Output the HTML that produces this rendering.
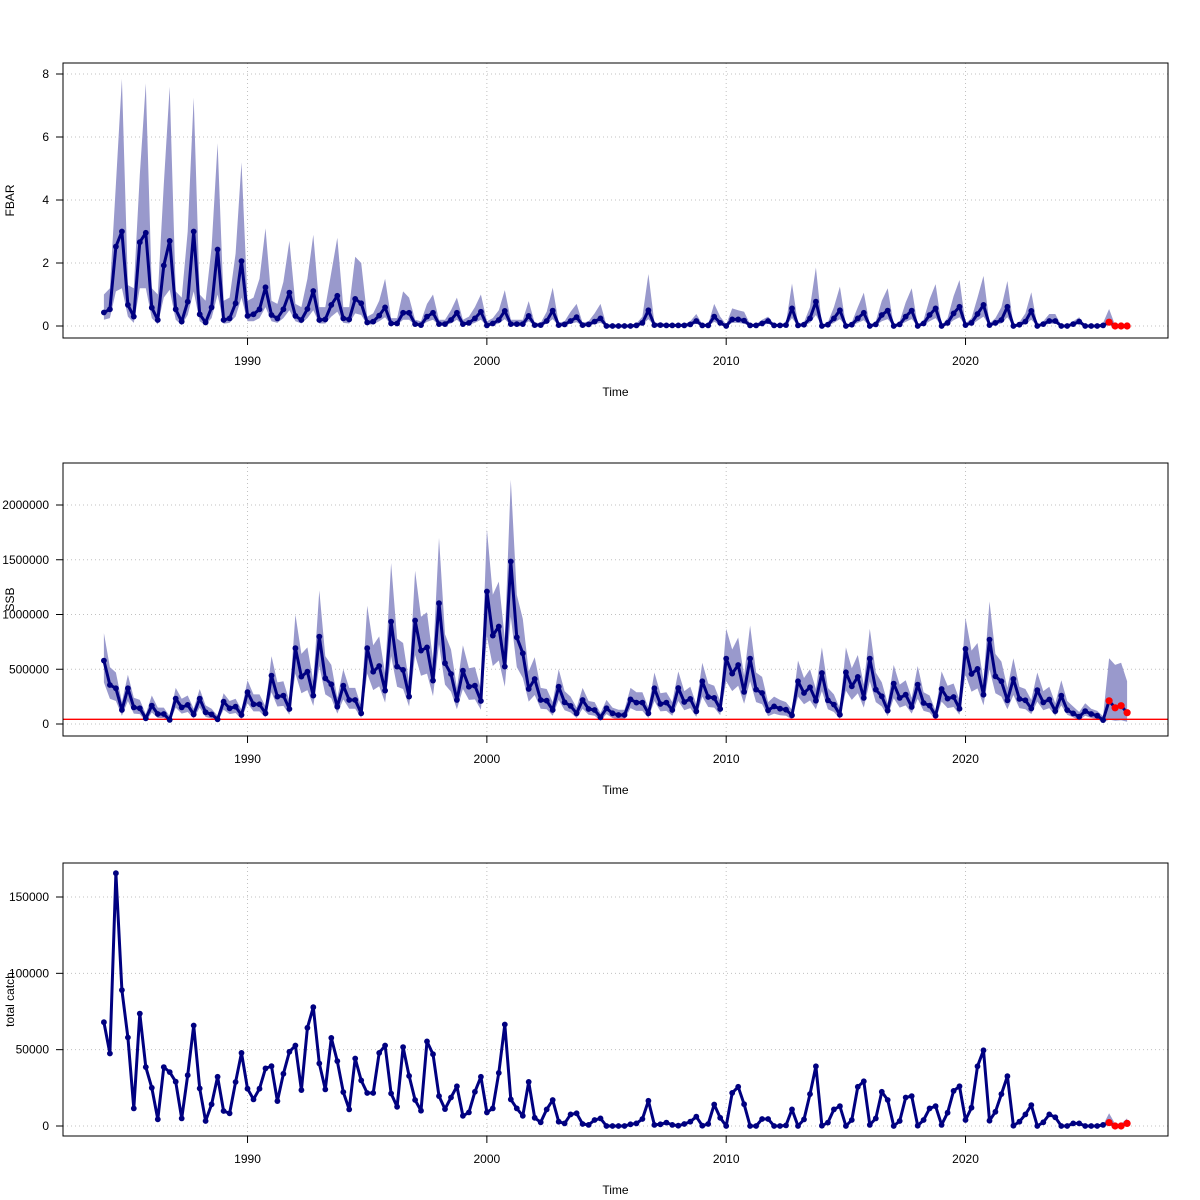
<!DOCTYPE html>
<html><head><meta charset="utf-8"><title>FBAR / SSB / total catch</title>
<style>
html,body{margin:0;padding:0;background:#fff;}
svg{display:block;font-family:"Liberation Sans",Arial,sans-serif;}
</style></head>
<body>
<svg id="chart" width="1200" height="1200" viewBox="0 0 1200 1200" xmlns="http://www.w3.org/2000/svg"></svg>
<script>
// ---- data (quarterly, 1984.0 .. 2026.75) ----
const startYear = 1984;
const quarterStep = 0.25;
const projectedCount = 4;
const xTickYears = [1990, 2000, 2010, 2020];

const fbarMean = [
.43,.53,2.52,3.0, .67,.30,2.66,2.96, .58,.19,1.92,2.70, .53,.14,.77,3.0,
.37,.11,.59,2.43, .19,.24,.72,2.06, .32,.37,.53,1.23, .35,.24,.53,1.06,
.32,.19,.54,1.11, .19,.21,.67,.96, .24,.21,.86,.72, .11,.14,.33,.59,
.08,.08,.42,.42, .06,.03,.30,.42, .06,.06,.19,.42, .06,.10,.24,.45,
.02,.08,.19,.48, .06,.06,.06,.32, .03,.03,.16,.49, .03,.05,.16,.28,
.03,.05,.14,.24, 0,0,0,0, 0,.02,.10,.50, .03,.03,.02,.02,
.02,.02,.05,.16, .02,.02,.30,.10, 0,.21,.21,.17, .02,.02,.08,.16,
.02,.02,.03,.56, .02,.04,.24,.77, 0,.04,.24,.50, 0,.04,.24,.42,
0,.05,.35,.49, 0,.05,.30,.49, 0,.08,.35,.56, 0,.10,.40,.61,
.03,.10,.38,.67, .03,.10,.19,.61, 0,.04,.14,.48, 0,.06,.16,.16,
0,0,.06,.14, 0,0,0,0.02, .12,0,0,0];
const fbarUpper = [
1.0,1.2,4.5,7.85, 1.3,1.2,4.8,7.7, 1.2,1.0,4.5,7.6, 1.1,0.9,3.0,7.25,
1.0,0.8,2.5,5.8, 0.8,0.9,2.3,5.2, 0.8,0.9,1.5,3.1, 0.8,0.7,1.4,2.7,
0.7,0.6,1.5,2.9, 0.6,0.6,1.7,2.8, 0.6,0.6,2.2,2.0, 0.3,0.4,0.8,1.5,
0.25,0.25,1.1,0.9, 0.2,0.15,0.7,1.0, 0.2,0.2,0.5,0.9, 0.2,0.3,0.6,1.0,
0.15,0.25,0.5,1.14, 0.2,0.2,0.2,0.79, 0.1,0.1,0.45,1.22, 0.1,0.15,0.45,0.7,
0.1,0.15,0.4,0.7, 0.02,0.02,0.02,0.02, 0.03,0.08,0.3,1.65, 0.1,0.1,0.06,0.06,
0.06,0.06,0.15,0.38, 0.06,0.06,0.7,0.3, 0.05,0.56,0.5,0.45, 0.06,0.06,0.2,0.3,
0.06,0.06,0.1,1.35, 0.06,0.12,0.6,1.86, 0.03,0.12,0.6,1.25, 0.03,0.12,0.6,1.06,
0.03,0.15,0.8,1.2, 0.03,0.15,0.75,1.2, 0.03,0.2,0.85,1.33, 0.03,0.25,0.95,1.46,
0.08,0.25,0.9,1.59, 0.08,0.25,0.6,1.43, 0.03,0.12,0.4,1.07, 0.03,0.15,0.38,0.38,
0.02,0.02,0.15,0.28, 0.02,0.02,0.02,0.1, 0.54,0.03,0.02,0.02];
const fbarLower = [
.2,.25,1.1,1.2, .3,.1,1.2,1.2, .25,.05,.9,1.15, .2,.03,.35,1.1,
.15,.03,.25,1.0, .07,.1,.3,.9, .15,.15,.25,.6, .15,.1,.25,.5,
.15,.08,.25,.5, .08,.08,.3,.45, .1,.08,.4,.35, .04,.05,.15,.28,
.03,.03,.2,.2, .02,.01,.13,.2, .02,.02,.08,.2, .02,.04,.1,.2,
0,.03,.08,.22, .02,.02,.02,.15, .01,.01,.07,.22, .01,.02,.07,.12,
.01,.02,.06,.1, 0,0,0,0, 0,0,.04,.22, .01,.01,0,0,
0,0,.02,.07, 0,0,.13,.04, 0,.1,.1,.07, 0,0,.03,.07,
0,0,.01,.25, 0,.01,.1,.35, 0,.01,.1,.22, 0,.01,.1,.18,
0,.02,.15,.22, 0,.02,.13,.22, 0,.03,.15,.25, 0,.04,.18,.28,
.01,.04,.17,.3, .01,.04,.08,.28, 0,.01,.06,.2, 0,.02,.07,.07,
0,0,.02,.06, 0,0,0,0, .03,0,0,0];

// SSB in thousands of tonnes
const ssbUnit = 1000;
const ssbMean = [
579,356,326,128, 326,152,143,52, 168,91,91,37, 232,152,174,88,
232,107,88,43, 204,143,158,82, 290,180,180,98, 442,250,259,137,
692,433,478,259, 798,417,363,158, 350,219,219,98, 692,478,530,305,
935,524,494,250, 945,670,700,396, 1103,555,457,219, 487,341,350,210,
1210,807,890,524, 1484,792,646,320, 411,219,213,128, 341,198,165,98,
219,137,128,61, 143,98,82,82, 225,195,195,98, 326,183,195,128,
329,201,229,116, 390,247,238,137, 597,460,539,293, 597,314,283,125,
161,140,131,79, 390,283,335,213, 466,216,177,85, 472,344,430,238,
597,314,253,122, 369,238,268,155, 360,192,168,76, 320,232,247,140,
686,457,503,268, 771,436,390,216, 411,229,216,142, 309,197,224,118,
258,127,97,67, 118,91,76,36, 212,148,167,103];
const ssbUpper = [
830,520,470,200, 450,240,220,90, 260,150,150,70, 330,230,260,140,
320,170,140,75, 280,210,230,130, 400,270,270,160, 620,380,390,210,
1000,640,700,390, 1220,620,540,240, 500,330,330,160, 1080,720,800,460,
1470,780,740,380, 1400,980,1020,590, 1700,820,680,330, 720,510,520,320,
1780,1180,1300,780, 2230,1180,960,480, 610,330,320,200, 500,300,250,150,
330,210,200,100, 220,150,130,130, 330,290,290,150, 470,280,290,200,
480,300,340,180, 560,370,350,210, 870,680,790,440, 900,470,430,200,
250,220,200,130, 580,420,500,320, 700,330,270,140, 700,510,630,360,
870,470,380,190, 540,360,400,240, 530,290,260,120, 480,350,370,220,
970,670,740,400, 1120,640,570,330, 600,340,320,220, 470,300,340,190,
400,210,160,110, 190,140,120,70, 600,540,560,390];
const ssbLower = [
380,230,210,75, 210,95,90,25, 105,55,55,15, 150,95,110,50,
150,65,50,20, 130,90,100,45, 190,115,115,60, 290,160,165,85,
460,280,310,165, 530,270,235,95, 225,140,140,55, 460,310,345,195,
620,340,320,160, 630,440,460,255, 730,360,295,135, 320,220,225,130,
800,530,580,340, 980,520,420,205, 265,140,135,75, 220,125,105,55,
140,85,75,30, 90,55,40,40, 145,120,120,55, 210,115,120,75,
210,125,145,65, 250,155,150,80, 390,300,350,185, 390,200,180,70,
95,80,75,40, 250,180,215,135, 300,135,110,45, 305,220,280,150,
390,200,160,70, 235,150,170,95, 230,120,105,40, 205,145,155,85,
450,295,325,170, 500,280,250,135, 265,145,135,90, 205,125,145,75,
170,85,60,35, 75,55,45,15, 40,30,35,20];
const ssbRefLine = 43; // thousands

// total catch in thousands of tonnes
const catchUnit = 1000;
const catchMean = [
68,47.5,165.6,89, 58,11.5,73.6,38.6, 25,4.4,38.6,35.3, 29,5,33.3,65.8,
24.6,3.3,14.2,32.2, 9.8,8.3,28.8,47.9, 24.4,17.4,24.4,37.7, 39.2,16.3,34.2,48.6,
52.7,23.5,64.3,77.8, 41,24,57.7,42.5, 22.2,10.9,44.2,29.9, 21.6,21.6,47.9,52.7,
21.3,12.6,51.7,32.8, 17,10,55.4,47, 19.6,11.1,18.7,26, 6.7,8.9,22.4,32.2,
8.9,11.5,34.8,66.5, 17.4,11.5,6.7,28.9, 5.4,2.4,10.9,17, 2.8,1.7,7.6,8.3,
1.3,.7,3.9,5, 0,0,0,0, 1.1,1.7,4.6,16.5, .7,1.1,2.2,.7,
.2,1.3,2.8,6.1, .2,1.3,14.1,5.4, 0,21.7,25.7,14.3, 0,0,4.6,4.6,
0,0,.4,10.9, 0,4.3,20.9,39.1, .2,2.2,10.9,13, 0,3.9,25.7,29.3,
.7,5,22.4,17, 0,3.3,18.7,19.6, .2,3.9,11.5,13, .7,8.7,23,26,
3.9,12,39.1,49.6, 3.5,9.3,20.9,32.6, .2,2.8,7.6,13.7, 0,2.4,7.6,5.7,
0,0,1.7,1.7, 0,0,0,.7, 2.2,0,0,1.7];
const catchBandUpper = [0.7, 8.3, 1.5, 1.5, 5.0]; // last 5 points
const catchBandLower = [0.7, 0, 0, 0, 0];

const fbarTicks = [0, 2, 4, 6, 8];
const ssbTicks = [0, 500000, 1000000, 1500000, 2000000];
const catchTicks = [0, 50000, 100000, 150000];

// ---- drawing ----
const NS = 'http://www.w3.org/2000/svg';
const svg = document.getElementById('chart');
const X0 = 63, X1 = 1168;
const xDomMin = 1982.29, xDomMax = 2028.46;
function xScale(t){ return X0 + (t - xDomMin) / (xDomMax - xDomMin) * (X1 - X0); }
function timeAt(i){ return startYear + i * quarterStep; }

function mk(tag, attrs, parent){
  const e = document.createElementNS(NS, tag);
  for (const k in attrs) e.setAttribute(k, attrs[k]);
  (parent || svg).appendChild(e);
  return e;
}

function drawPanel(cfg){
  const g = mk('g', {});
  
  
  const yScale = v => cfg.zeroPx - (v * cfg.unit) * cfg.pxPerUnit;

  // grid
  const grid = mk('g', {stroke:'#c0c0c0', 'stroke-width':1, 'stroke-dasharray':'1,3'}, g);
  
  
  xTickYears.forEach(yr => {
    const x = xScale(yr);
    mk('line', {x1:x, x2:x, y1:cfg.top, y2:cfg.bottom}, grid);
  });
  cfg.ticks.forEach(v => {
    const y = cfg.zeroPx - v * cfg.pxPerUnit;
    mk('line', {x1:X0, x2:X1, y1:y, y2:y}, grid);
  });

  const n = cfg.mean.length;
  // band
  if (cfg.upper) {
    const off = cfg.bandOffset || 0;
    let pts = [];
    for (let i = 0; i < cfg.upper.length; i++) pts.push(xScale(timeAt(i + off)).toFixed(1) + ',' + yScale(cfg.upper[i]).toFixed(1));
    for (let i = cfg.lower.length - 1; i >= 0; i--) pts.push(xScale(timeAt(i + off)).toFixed(1) + ',' + yScale(cfg.lower[i]).toFixed(1));
    const band = mk('polygon', {points: pts.join(' '), fill:'#9999cc', stroke:'none'}, g);
    
    
  }
  // reference line
  if (cfg.refLine !== undefined) {
    const y = yScale(cfg.refLine);
    const rl = mk('line', {x1:X0, x2:X1, y1:y, y2:y, stroke:'#ff0000', 'stroke-width':1.3}, g);
    
    
  }
  // line
  let d = '';
  for (let i = 0; i < n; i++) d += (i ? 'L' : 'M') + xScale(timeAt(i)).toFixed(1) + ',' + yScale(cfg.mean[i]).toFixed(1);
  const line = mk('path', {d:d, fill:'none', stroke:'#000080', 'stroke-width':3, 'stroke-linejoin':'round'}, g);
  
  
  // points
  const pg = mk('g', {}, g);
  
  
  for (let i = 0; i < n; i++) {
    const proj = i >= n - projectedCount;
    const c = mk('circle', {cx:xScale(timeAt(i)).toFixed(1), cy:yScale(cfg.mean[i]).toFixed(1), r: proj ? 3.6 : 2.9, fill: proj ? '#ff0000' : '#000080'}, pg);
    
    
  }
  // box
  const box = mk('rect', {x:X0, y:cfg.top, width:X1 - X0, height:cfg.bottom - cfg.top, fill:'none', stroke:'#000', 'stroke-width':1}, g);
  
  

  // y axis
  const ya = mk('g', {'font-size':12, fill:'#000'}, g);
  
  
  cfg.ticks.forEach(v => {
    const y = cfg.zeroPx - v * cfg.pxPerUnit;
    mk('line', {x1:X0 - 7, x2:X0, y1:y, y2:y, stroke:'#000'}, ya);
    const t = mk('text', {x:X0 - 14, y:y + 4, 'text-anchor':'end'}, ya);
    t.textContent = String(v);
    
    
  });
  // x axis
  const xa = mk('g', {'font-size':12, fill:'#000'}, g);
  
  
  xTickYears.forEach(yr => {
    const x = xScale(yr);
    mk('line', {x1:x, x2:x, y1:cfg.bottom, y2:cfg.bottom + 7, stroke:'#000'}, xa);
    const t = mk('text', {x:x, y:cfg.bottom + 27, 'text-anchor':'middle'}, xa);
    t.textContent = String(yr);
    
    
  });
  const xt = mk('text', {x:(X0 + X1) / 2, y:cfg.bottom + 58, 'text-anchor':'middle', 'font-size':12}, g);
  xt.textContent = 'Time';
  
  
  const cy = (cfg.top + cfg.bottom) / 2;
  const yt = mk('text', {x:14, y:cy, 'text-anchor':'middle', 'font-size':12, transform:'rotate(-90 14 ' + cy + ')'}, g);
  yt.textContent = cfg.title;
  
  
}

drawPanel({name:'fbar', title:'FBAR', top:63, bottom:338, zeroPx:326, pxPerUnit:31.5, unit:1,
  mean:fbarMean, upper:fbarUpper, lower:fbarLower, ticks:fbarTicks});
drawPanel({name:'ssb', title:'SSB', top:463, bottom:736, zeroPx:724, pxPerUnit:219/2000000, unit:ssbUnit,
  mean:ssbMean, upper:ssbUpper, lower:ssbLower, ticks:ssbTicks, refLine:ssbRefLine});
drawPanel({name:'catch', title:'total catch', top:863, bottom:1136, zeroPx:1126, pxPerUnit:229/150000, unit:catchUnit,
  mean:catchMean, upper:catchBandUpper, lower:catchBandLower, bandOffset:catchMean.length - catchBandUpper.length, ticks:catchTicks});
</script>
</body></html>
